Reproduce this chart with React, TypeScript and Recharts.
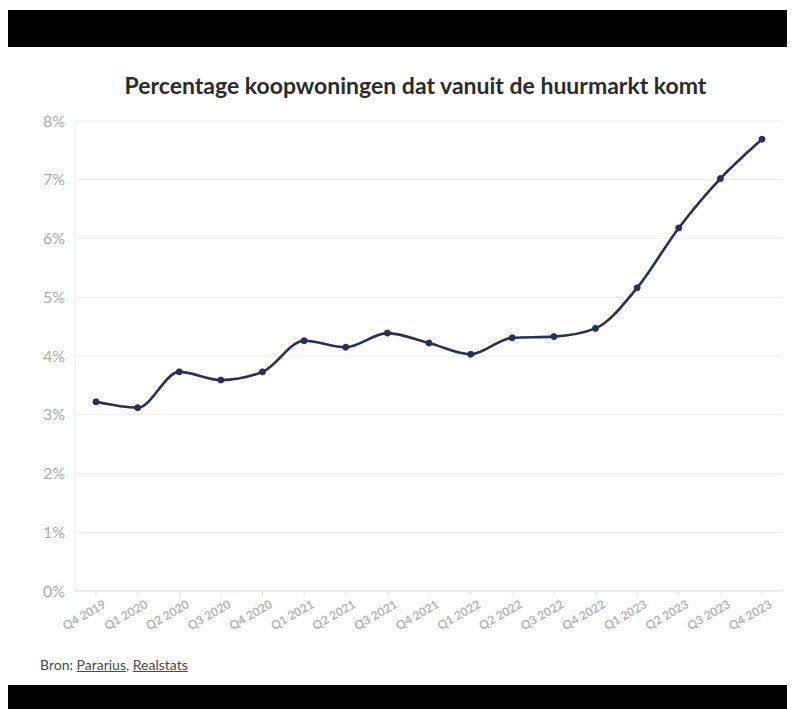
import React from "react";
import { LineChart, Line, XAxis, YAxis, CartesianGrid } from "recharts";

const QUARTERS = [
	"Q4 2019", "Q1 2020", "Q2 2020", "Q3 2020", "Q4 2020",
	"Q1 2021", "Q2 2021", "Q3 2021", "Q4 2021",
	"Q1 2022", "Q2 2022", "Q3 2022", "Q4 2022",
	"Q1 2023", "Q2 2023", "Q3 2023", "Q4 2023",
];
const SHARE = [
	3.22, 3.12, 3.73, 3.59, 3.73,
	4.26, 4.15, 4.39, 4.22,
	4.03, 4.31, 4.33, 4.47,
	5.16, 6.18, 7.02, 7.69,
];
const Y_TICKS = [0, 1, 2, 3, 4, 5, 6, 7, 8];

const data = QUARTERS.map((q, i) => ({ q, v: SHARE[i] }));

const FONT = "Lato, 'Open Sans', sans-serif";
const LINE_COLOR = "#2a2e5a";

function QuarterTick(props: any) {
	const { x, y, payload } = props;
	return (
		<g transform={`translate(${x},${y})`}>
			<text
				x={5}
				y={13}
				textAnchor="end"
				transform="rotate(-30)"
				fontSize={12}
				fontWeight={700}
				fill="#b5b5b5"
				fontFamily={FONT}
			>
				{payload.value}
			</text>
		</g>
	);
}

export default function App() {
	return (
		<div style={{ position: "relative", width: 779, height: 701, background: "#fff", fontFamily: FONT }}>
			<div style={{ position: "absolute", left: 0, top: 2, width: 779, height: 37, background: "#000" }} />
			<div
				style={{
					position: "absolute",
					left: 36,
					top: 63,
					width: 743,
					textAlign: "center",
					fontSize: 23,
					lineHeight: "28px",
					fontWeight: 700,
					color: "#2b2b2b",
				}}
			>
				Percentage koopwoningen dat vanuit de huurmarkt komt
			</div>
			<div style={{ position: "absolute", left: 0, top: 92 }}>
				<LineChart
					width={779}
					height={545}
					data={data}
					margin={{ top: 21, right: 4, bottom: 0, left: 0 }}
				>
					<CartesianGrid vertical={false} stroke="#efefef" />
					<XAxis
						dataKey="q"
						interval={0}
						height={54}
						padding={{ left: 21, right: 21 }}
						axisLine={{ stroke: "#e6e6e6" }}
						tickLine={{ stroke: "#e6e6e6" }}
						tickSize={5}
						tick={<QuarterTick />}
					/>
					<YAxis
						width={67}
						domain={[0, 8]}
						ticks={Y_TICKS}
						tickFormatter={(v: number) => `${v}%`}
						axisLine={{ stroke: "#ececec" }}
						tickLine={false}
						tickSize={0}
						tickMargin={10}
						tick={{ fill: "#adadad", fontSize: 16, fontFamily: FONT }}
					/>
					<Line
						type="monotone"
						dataKey="v"
						stroke={LINE_COLOR}
						strokeWidth={2.6}
						dot={{ r: 3, fill: LINE_COLOR, stroke: LINE_COLOR, strokeWidth: 1 }}
						isAnimationActive={false}
					/>
				</LineChart>
			</div>
			<div style={{ position: "absolute", left: 32, top: 648, fontSize: 14, lineHeight: "17px", color: "#4a4a4a" }}>
				Bron: <span style={{ textDecoration: "underline" }}>Pararius</span>,{" "}
				<span style={{ textDecoration: "underline" }}>Realstats</span>
			</div>
			<div style={{ position: "absolute", left: 0, top: 677, width: 779, height: 24, background: "#000" }} />
		</div>
	);
}
